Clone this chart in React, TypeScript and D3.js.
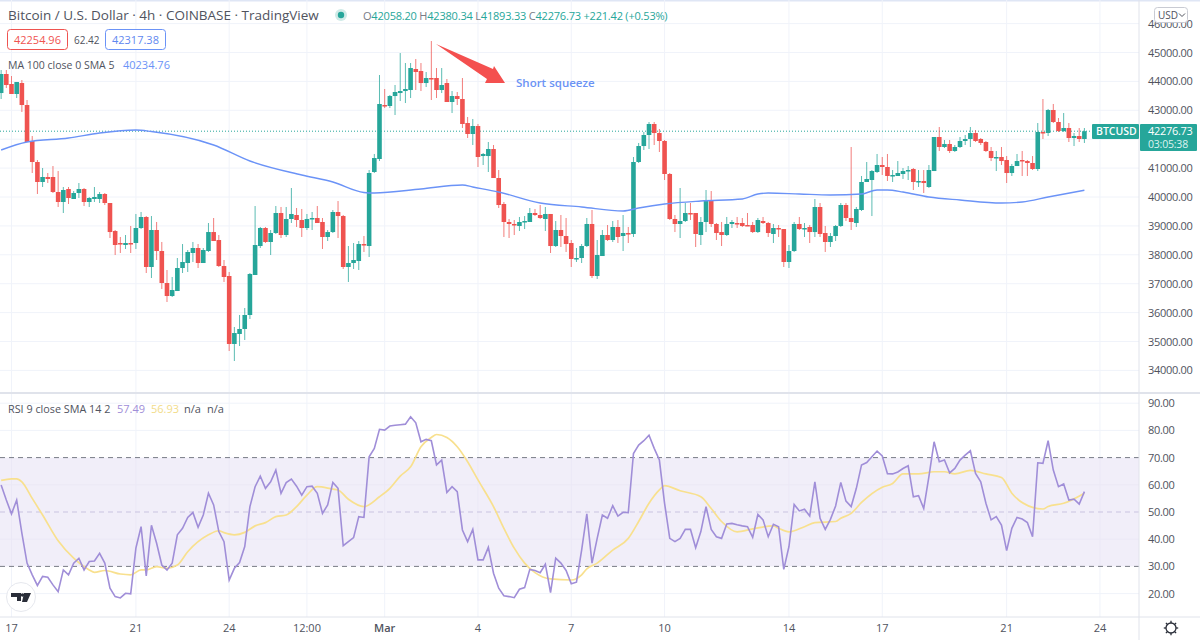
import React from "react";
import * as d3 from "d3";

const opens = [
43598,44256,43910,43564,43944,43183,41938,41211,40519,40692,
40692,40173,39827,40277,39931,40138,40277,39827,39931,39931,
40104,39792,38823,38408,38339,38408,38408,38927,39308,37578,
38858,38131,37024,36574,36747,37543,37716,38062,38235,37716,
38131,38788,38512,37612,37266,34914,35260,35433,35917,37301,
38304,38927,38443,38754,39446,38685,39239,39377,39204,38927,
39239,39273,39135,38616,38788,39481,39342,37578,37716,37785,
38373,38304,40865,41315,43183,43149,43494,43598,43667,43702,
44429,44360,43944,44117,44117,43702,43944,43287,43494,43391,
42560,42180,42456,41418,41418,41661,40657,39758,39135,39066,
38996,39135,39135,39446,39377,39239,39412,38304,38858,38650,
38408,37855,37889,38304,39066,37266,37958,38685,38512,38962,
38650,38754,38720,41211,41764,42145,42526,42214,41938,40796,
39239,39066,39169,39446,39446,38685,39135,39896,39066,38788,
38685,39066,39100,39100,39031,39031,38788,39169,39100,38720,
38927,38892,37751,38131,39066,38892,38962,38788,39654,38754,
38443,38650,38996,39723,39273,39100,39550,40519,40588,40865,
41107,41038,40727,40727,40796,40899,40969,40519,40554,40346,
40899,42076,41730,41834,41592,41730,41938,42007,42214,42007,
41903,41592,41349,41384,41280,40830,41072,41280,41245,41176,
40969,42249,42214,43010,42595,42283,42387,42041,42110,42007];

const highs = [
44394,44394,44186,43979,44048,43356,42110,41280,41003,40830,
41072,40899,40346,40346,40207,40484,40311,40000,40346,40173,
40138,39792,38858,38616,38685,38996,39412,39481,39342,39342,
39135,38443,37474,37232,37889,38373,38166,38443,38373,38235,
39100,39273,38685,37820,37405,35502,35917,36159,37370,39688,
38962,38962,38858,39688,39654,39654,40311,39619,39585,39412,
39481,39688,39273,38858,39550,39861,39377,38304,38408,38477,
38650,40934,41488,44221,43737,43529,43875,44982,44636,44636,
44775,44636,44325,45397,44463,44463,44083,43667,43633,44117,
42768,42699,42526,41522,41903,41799,40934,39827,39239,39204,
39308,39342,39619,39585,39723,39654,39412,39169,39377,39273,
38512,38235,38373,39273,39550,38512,38858,39031,39169,39204,
39377,38962,41384,41869,42249,42595,42595,42353,41972,40830,
39377,40311,39792,39792,39446,39308,40242,40207,39100,39135,
39308,39204,39308,39273,39446,39135,39273,39308,39135,39066,
39031,38892,38339,39135,39308,39100,39031,39931,39792,38996,
38754,39031,39792,39792,41730,39654,40727,41211,40934,41488,
41384,41488,40934,41245,41003,41072,41003,40934,40934,41107,
42076,42422,41972,41972,41799,42076,42145,42422,42318,42041,
41938,41730,41592,41730,41418,41142,41488,41592,41280,41418,
42560,43391,43045,43218,42733,42906,42560,42214,42387,42387];

const lows = [
43391,43771,43564,43425,42941,41903,40830,40104,40346,40484,
40138,39654,39446,39758,39931,39965,39688,39654,39827,39792,
39723,38581,37993,38062,38201,38062,38201,38892,37370,37197,
37820,36817,36367,36540,36747,37370,37405,37751,37543,37716,
38097,38477,37578,37059,34671,34325,34844,35052,35779,37301,
38235,38408,37993,38720,38581,38616,39100,38962,38616,38858,
38858,39100,38201,38477,38754,38581,37509,37059,37509,37474,
38097,37924,40830,41245,43079,43079,42837,43321,43252,43425,
43702,43667,43806,43356,43425,43598,43287,42906,43183,42387,
42041,41799,41038,41107,40865,40657,39619,38616,38581,38685,
38823,38892,39135,39342,39239,38823,38062,38270,38270,38097,
37578,37751,37716,38270,37197,37163,37958,38477,38443,38408,
38131,38408,38616,41176,41626,41661,41799,41557,40588,39204,
38788,38581,39135,39204,38270,38339,38788,38962,38512,38304,
38650,38927,38927,38962,38996,38754,38754,39066,38616,38408,
38616,37578,37543,38097,38858,38616,38408,38616,38616,38097,
38270,38477,38962,39169,38858,38962,39515,40519,39342,40830,
40761,40554,40519,40727,40623,40588,40242,40346,40138,40311,
40899,41592,41695,41522,41557,41695,41799,41730,41903,41799,
41557,41245,40899,41107,40484,40727,41072,40727,40727,40934,
40899,42007,42110,42560,42249,42249,41903,41764,41903,41869];

const closes = [
44256,43875,43564,43979,43183,41903,41211,40519,40692,40623,
40173,39827,40242,39965,40138,40277,39827,39965,40000,40104,
39792,38788,38339,38373,38408,38373,38927,39308,37578,38858,
38131,37024,36574,36782,37543,37751,38097,38235,37716,38166,
38788,38477,37612,37232,34914,35294,35433,35917,37336,38339,
38927,38443,38754,39446,38685,39239,39412,39204,38927,39239,
39273,39100,38616,38788,39481,39342,37578,37716,37820,38373,
38339,40830,41349,43218,43149,43494,43633,43667,43737,44463,
44325,43944,44117,44083,43702,43875,43287,43494,43391,42526,
42180,42456,41384,41488,41661,40657,39723,39135,39066,39031,
39135,39169,39446,39377,39273,39412,38304,38858,38650,38373,
37855,37889,38304,39066,37266,37993,38685,38512,38962,38616,
38754,38720,41211,41764,42145,42526,42214,41938,40796,39239,
39066,39169,39446,39412,38720,39135,39896,39066,38754,38685,
39066,39135,39066,38996,38996,38788,39204,39100,38754,38927,
38892,37751,38131,39066,38892,38927,38788,39654,38720,38443,
38650,38996,39723,39273,39135,39585,40519,40623,40899,41107,
41038,40727,40761,40830,40899,40934,40519,40554,40484,40934,
42076,41730,41834,41592,41730,41938,42007,42214,41938,41869,
41592,41349,41384,41245,40830,41072,41245,41245,41176,40969,
42249,42214,43010,42595,42283,42387,42041,42110,42007,42277];

const maBars = [0,5,13,19,26,29,41,48,58,64,70,72,81,89,91,96,104,112,120,123,128,135,143,146,148,154,160,166,169,171,174,179,185,193,197,202,209];
const maValues = [41626,41903,42041,42214,42318,42266,41799,41245,40761,40519,40156,40138,40277,40415,40346,40173,39792,39654,39515,39619,39758,39861,39931,40104,40138,40104,40069,40104,40242,40242,40173,40000,39896,39792,39827,40000,40235];

const rsi = [
59.9,54.4,49.3,54.4,42.2,31.2,26.9,23.0,26.3,26.0,
23.2,20.7,28.7,26.9,31.2,33.0,28.7,31.8,32.0,34.8,
31.2,22.0,18.9,18.4,20.1,19.9,36.7,44.6,26.5,45.1,
38.5,30.5,28.7,31.2,41.6,44.0,48.0,49.8,44.4,48.9,
56.9,52.6,42.8,39.1,25.0,29.3,31.4,37.3,52.0,59.3,
63.2,58.7,61.1,65.4,56.9,60.8,62.1,59.5,56.2,59.3,
59.5,56.9,49.5,52.6,60.9,58.7,37.6,39.1,40.6,48.3,
48.0,70.3,73.4,80.4,80.1,81.6,81.9,82.1,82.3,85.0,
82.8,75.8,76.7,76.2,67.3,69.1,57.2,59.3,57.5,43.4,
39.1,43.6,32.4,32.4,37.0,27.5,22.0,19.2,18.9,18.5,
21.6,22.2,28.9,28.5,27.7,30.8,20.4,33.0,31.2,28.5,
23.6,24.2,36.0,49.3,31.2,40.3,48.9,47.7,52.3,48.5,
49.9,49.8,71.5,74.6,76.2,78.2,73.4,69.1,53.2,40.3,
39.1,40.3,43.6,43.6,36.9,42.8,52.0,43.6,40.9,40.3,
45.6,45.8,45.3,44.9,44.6,40.7,49.1,47.1,40.9,45.5,
44.6,28.9,37.3,52.8,50.4,51.0,48.5,61.1,47.7,43.6,
47.3,52.2,60.9,54.0,52.0,58.7,67.3,68.2,70.3,72.4,
70.6,64.1,64.0,64.7,66.0,67.0,55.6,56.0,51.3,63.0,
75.8,68.5,69.1,64.4,66.0,69.1,70.9,72.5,64.2,61.1,
53.2,47.1,48.3,45.2,35.8,44.0,48.0,47.4,46.1,40.9,
68.1,67.9,76.2,65.4,59.3,60.3,54.4,54.7,52.9,57.49];

const smaBars = [0,2,3,4,6,8,11,14,17,18,20,23,25,27,28,30,32,34,36,40,42,43,45,47,49,51,53,55,57,59,61,64,65,67,70,73,75,77,79,81,83,84,86,88,90,92,95,97,99,101,103,106,110,112,113,115,118,121,123,125,127,128,131,135,137,139,142,145,149,150,152,155,157,161,162,164,166,170,172,174,177,180,182,184,187,190,193,195,199,201,202,205,209];
const smaValues = [61.6,62.2,62.2,61.1,55.0,48.9,39.4,33.0,28.7,27.8,28.5,27.2,26.9,28.7,28.7,29.9,29.3,30.5,35.4,41.6,43.1,42.4,41.6,42.5,44.9,46.1,48.3,48.9,52.0,56.2,59.3,58.4,58.1,54.7,52.0,55.6,58.7,63.2,66.6,74.0,77.4,78.5,77.4,74.0,68.5,61.8,52.0,44.0,36.7,31.2,27.7,25.4,25.0,26.9,29.1,31.2,36.0,40.3,46.5,53.2,58.1,59.7,57.8,55.6,51.3,46.5,42.7,43.8,44.9,44.0,42.7,44.6,46.1,46.5,47.7,49.5,53.5,59.1,60.5,64.0,64.0,64.8,64.8,64.0,65.3,64.0,62.7,56.9,51.7,51.1,52.0,53.2,56.93];

const priceTicks = [34000,35000,36000,37000,38000,39000,40000,41000,42000,43000,44000,45000,46000];
const rsiTicks = [20,30,40,50,60,70,80,90];
const timeBars = [2,26,44,59,74,92,110,128,152,170,194,212];
const timeLabels = ["17","21","24","12:00","Mar","4","7","10","14","17","21","24"];
const lastPrice = 42276.73;

const UP = "#26a69a";
const DOWN = "#ef5350";
const GRID = "#f0f3fa";
const LINE = "#e0e3eb";
const TXT = "#50535e";
const FONT = "'Open Sans', sans-serif";

const x = d3.scaleLinear().domain([0, 209]).range([1.13, 1084.4]);
const yP = d3.scaleLinear().domain([46000, 34000]).range([23.6, 370.4]);
const yR = d3.scaleLinear().domain([90, 20]).range([403.2, 593.6]);

const maPath = d3.line<number>().x((_, i) => x(maBars[i])).y((d) => yP(d)).curve(d3.curveMonotoneX)(maValues) as string;
const rsiPath = d3.line<number>().x((_, i) => x(i)).y((d) => yR(d))(rsi) as string;
const smaPath = d3.line<number>().x((_, i) => x(smaBars[i])).y((d) => yR(d)).curve(d3.curveMonotoneX)(smaValues) as string;

const AXIS_X = 1139;
const PANE_SPLIT = 393;
const PANE_BOTTOM = 617;

function Gear({ cx, cy }: { cx: number; cy: number }) {
  const teeth = d3.range(8).map((k) => (k * Math.PI) / 4);
  return (
    <g stroke="#2a2e39" strokeWidth={1.3} fill="none">
      <circle cx={cx} cy={cy} r={5} />
      {teeth.map((a) => (
        <line key={a} x1={cx + 5 * Math.cos(a)} y1={cy + 5 * Math.sin(a)} x2={cx + 7.2 * Math.cos(a)} y2={cy + 7.2 * Math.sin(a)} />
      ))}
    </g>
  );
}

export default function App() {
  return (
    <svg width={1200} height={640} style={{ position: "fixed", left: 0, top: 0, background: "#fff" }} fontFamily={FONT}>
      <rect width={1200} height={640} fill="#fff" />
      <rect width={1200} height={1.5} fill="#dfe6f5" />

      {/* grids */}
      {priceTicks.map((t) => (
        <line key={t} x1={0} x2={AXIS_X} y1={yP(t)} y2={yP(t)} stroke={GRID} />
      ))}
      {rsiTicks.filter((t) => t !== 30 && t !== 50 && t !== 70).map((t) => (
        <line key={t} x1={0} x2={AXIS_X} y1={yR(t)} y2={yR(t)} stroke={GRID} />
      ))}
      {timeBars.map((b) => (
        <g key={b}>
          <line x1={x(b)} x2={x(b)} y1={0} y2={PANE_SPLIT} stroke={GRID} />
          <line x1={x(b)} x2={x(b)} y1={PANE_SPLIT} y2={PANE_BOTTOM} stroke={GRID} />
        </g>
      ))}

      {/* last price line */}
      <line x1={0} x2={1092} y1={yP(lastPrice)} y2={yP(lastPrice)} stroke={UP} strokeWidth={1} strokeDasharray="1 2" />

      {/* candles */}
      {opens.map((o, i) => {
        const c = closes[i];
        const col = c >= o ? UP : DOWN;
        const top = yP(Math.max(o, c));
        const bot = yP(Math.min(o, c));
        return (
          <g key={i}>
            <line x1={x(i)} x2={x(i)} y1={yP(highs[i])} y2={yP(lows[i])} stroke={col} strokeWidth={1} opacity={0.75} />
            <rect x={x(i) - 2.3} width={4.6} y={top} height={Math.max(1.5, bot - top)} fill={col} />
          </g>
        );
      })}

      <path d={maPath} fill="none" stroke="#6b93f7" strokeWidth={1.4} />

      {/* arrow annotation */}
      <path d="M436,44 L493,69 L494,66 L505,83 L485,83 L487,79 Z" fill="#f4504f" />
      <text x={516} y={86.5} fontSize={11.5} fontWeight={600} fill="#6b93f5">Short squeeze</text>

      {/* RSI pane */}
      <rect x={0} width={AXIS_X} y={yR(70)} height={yR(30) - yR(70)} fill="#f1eef9" />
      {[60, 40].map((t) => (
        <line key={t} x1={0} x2={AXIS_X} y1={yR(t)} y2={yR(t)} stroke="#ebe8f6" />
      ))}
      {timeBars.map((b) => (
        <line key={b} x1={x(b)} x2={x(b)} y1={yR(70)} y2={yR(30)} stroke="#ebe8f6" />
      ))}
      <line x1={0} x2={AXIS_X} y1={yR(70)} y2={yR(70)} stroke="#787b86" strokeDasharray="5 4" />
      <line x1={0} x2={AXIS_X} y1={yR(50)} y2={yR(50)} stroke="#c9c3e0" strokeDasharray="5 4" />
      <line x1={0} x2={AXIS_X} y1={yR(30)} y2={yR(30)} stroke="#787b86" strokeDasharray="5 4" />
      <path d={smaPath} fill="none" stroke="#f8e08e" strokeWidth={1.7} />
      <path d={rsiPath} fill="none" stroke="#a08ed8" strokeWidth={1.6} />

      {/* frame lines */}
      <rect x={0} y={PANE_SPLIT - 1} width={1200} height={2} fill={LINE} />
      <line x1={0} x2={1200} y1={PANE_BOTTOM} y2={PANE_BOTTOM} stroke={LINE} />
      <line x1={AXIS_X} x2={AXIS_X} y1={0} y2={640} stroke={LINE} />

      {/* price axis: the 42000 label sits behind the last-price tag in the reference */}
      {priceTicks.filter((t) => t !== 42000).map((t) => (
        <text key={t} x={1148} y={yP(t) + 4} fontSize={11} letterSpacing={-0.3} fill={TXT}>{t.toFixed(2)}</text>
      ))}
      {rsiTicks.map((t) => (
        <text key={t} x={1148} y={yR(t) + 4} fontSize={11} letterSpacing={-0.3} fill={TXT}>{t.toFixed(2)}</text>
      ))}

      {/* USD box */}
      <rect x={1154.5} y={7.5} width={33} height={15} rx={3} fill="#fff" stroke="#c9cbd3" />
      <text x={1158} y={19} fontSize={10} fill={TXT}>USD</text>
      <path d="M1179,13.5 l3,3 l3,-3" fill="none" stroke={TXT} />

      {/* last price tags */}
      <rect x={1092} y={124} width={47} height={15} rx={1} fill={UP} />
      <text x={1096} y={135} fontSize={10.5} fontWeight={600} fill="#fff">BTCUSD</text>
      <rect x={1140} y={124} width={57} height={27} rx={1} fill={UP} />
      <text x={1148} y={135} fontSize={11} letterSpacing={-0.3} fill="#fff">42276.73</text>
      <text x={1148} y={148} fontSize={10.5} letterSpacing={-0.2} fill="#dff3f0">03:05:38</text>

      {/* time axis */}
      {timeBars.map((b, i) => (
        <text key={b} x={x(b)} y={632} fontSize={11} textAnchor="middle" fontWeight={timeLabels[i] === "Mar" ? 600 : 400} fill={TXT}>{timeLabels[i]}</text>
      ))}
      <Gear cx={1171} cy={628} />

      {/* TV logo */}
      <circle cx={21} cy={597} r={14.5} fill="#fff" stroke="#e6e8ee" />
      <path d="M11,593 h10 v8 h-4 v-4 h-6 z M24,593 h7 l-4,9 h-5 z" fill="#2a2e39" />
      <circle cx={22.5} cy={595} r={1.8} fill="#2a2e39" />

      {/* header */}
      <text x={8} y={20} fontSize={13.5} fill="#50535e">Bitcoin / U.S. Dollar · 4h · COINBASE · TradingView</text>
      <circle cx={341} cy={15} r={6} fill="#cfeae7" />
      <circle cx={341} cy={15} r={3.2} fill={UP} />
      <text x={363} y={20} fontSize={11} fill={UP} letterSpacing={-0.2}>
        <tspan fill="#787b86">O</tspan>42058.20 <tspan fill="#787b86">H</tspan>42380.34 <tspan fill="#787b86">L</tspan>41893.33 <tspan fill="#787b86">C</tspan>42276.73 +221.42 (+0.53%)
      </text>

      <rect x={7.5} y={29.5} width={60} height={20} rx={3} fill="#fff" stroke={DOWN} />
      <text x={14} y={44} fontSize={11} fill={DOWN}>42254.96</text>
      <text x={74} y={44} fontSize={10} fill="#50535e">62.42</text>
      <rect x={105.5} y={29.5} width={60} height={20} rx={3} fill="#fff" stroke="#6b93f7" />
      <text x={112} y={44} fontSize={11} fill="#5f88f0">42317.38</text>

      <text x={8} y={68.5} fontSize={10.5} fill="#50535e">MA 100 close 0 SMA 5</text>
      <text x={123} y={68.5} fontSize={11} fill="#6b93f7">40234.76</text>

      <text x={8} y={413} fontSize={10.8} fill="#50535e">RSI 9 close SMA 14 2</text>
      <text x={117} y={413} fontSize={11} fill="#a08ed8">57.49</text>
      <text x={151} y={413} fontSize={11} fill="#f2dc8a">56.93</text>
      <text x={184} y={413} fontSize={11} fill="#50535e">n/a</text>
      <text x={207} y={413} fontSize={11} fill="#50535e">n/a</text>
    </svg>
  );
}
